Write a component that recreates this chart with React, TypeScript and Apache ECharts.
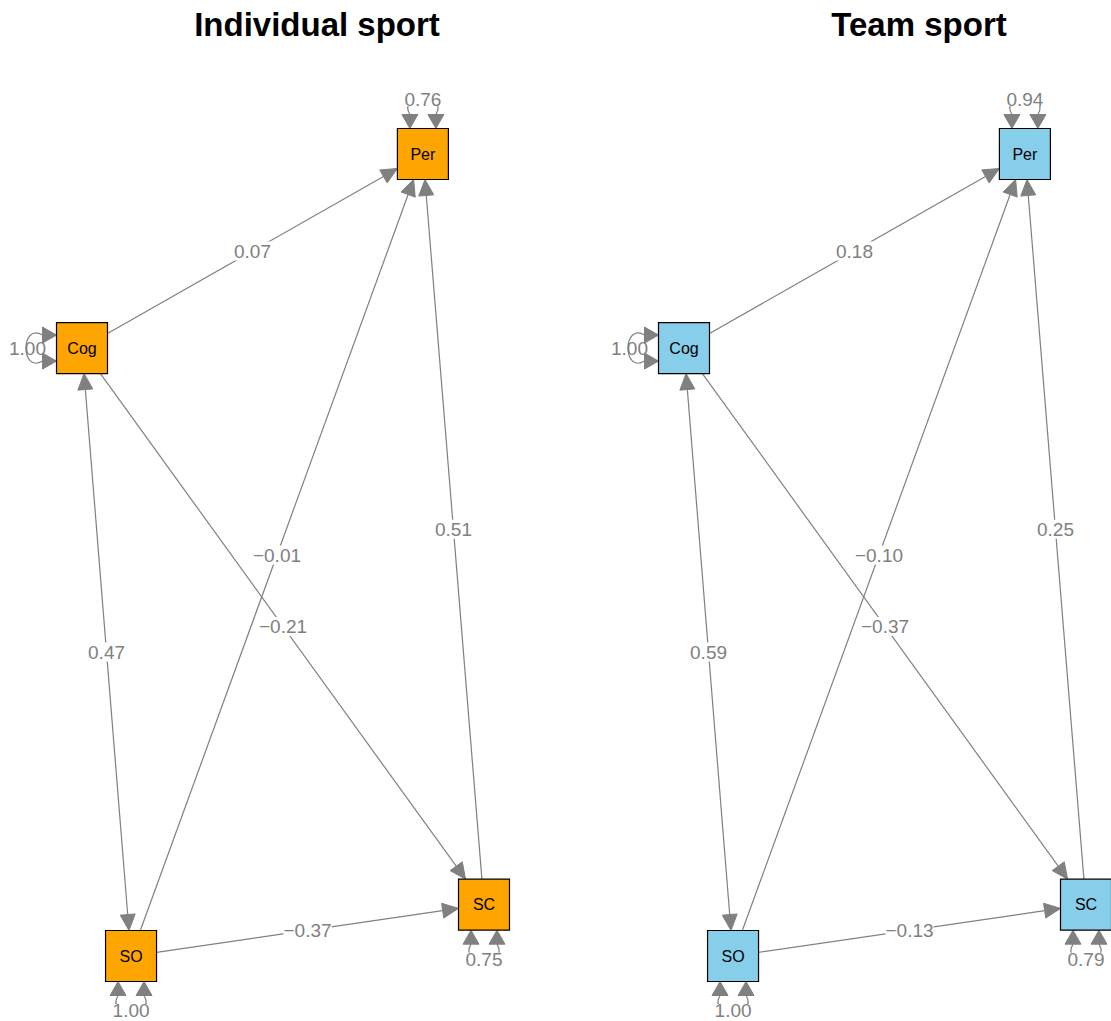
import React, { useEffect, useRef } from "react";
import * as echarts from "echarts";

// ---- data ----
const nodeNames = ["Per", "Cog", "SO", "SC"];
const nodeX = [0.848, 0, 0.122, 1];
const nodeY = [1, 0.758, 0, 0.064];

const edgeFrom = [1, 2, 3, 1, 1, 2];
const edgeTo = [0, 0, 0, 3, 2, 3];
const edgeBoth = [false, false, false, false, true, false];
const individualEdges = [0.07, -0.01, 0.51, -0.21, 0.47, -0.37];
const teamEdges = [0.18, -0.1, 0.25, -0.37, 0.59, -0.13];

const loopSide = ["top", "left", "bottom", "bottom"];
const individualVar = [0.76, 1.0, 1.0, 0.75];
const teamVar = [0.94, 1.0, 1.0, 0.79];

const panelTitles = ["Individual sport", "Team sport"];
const panelColors = ["#FFA500", "#87CEEB"];
const panelEdges = [individualEdges, teamEdges];
const panelVars = [individualVar, teamVar];

// ---- drawing helpers ----
const GRAY = "#808080";
const FONT = '"Liberation Sans", Arial, Helvetica, sans-serif';
const HALF = 25.5;
const AL = 16;
const AW = 7.5;

const fmt = (v: number) => v.toFixed(2).replace("-", "\u2212");

function boxExit(c: number[], u: number[]) {
  const tx = Math.abs(u[0]) > 1e-9 ? HALF / Math.abs(u[0]) : Infinity;
  const ty = Math.abs(u[1]) > 1e-9 ? HALF / Math.abs(u[1]) : Infinity;
  const t = Math.min(tx, ty);
  return [c[0] + u[0] * t, c[1] + u[1] * t];
}

function arrowHead(tip: number[], u: number[], len = AL, wid = AW) {
  const base = [tip[0] - u[0] * len, tip[1] - u[1] * len];
  const p = [-u[1], u[0]];
  return {
    type: "polygon",
    shape: {
      points: [
        tip,
        [base[0] + p[0] * wid, base[1] + p[1] * wid],
        [base[0] - p[0] * wid, base[1] - p[1] * wid],
      ],
    },
    style: { fill: GRAY, stroke: GRAY, lineWidth: 1 },
    base,
  };
}

function renderEdge(params: any, api: any) {
  const i = api.value(2);
  const v = api.value(3);
  const s = edgeFrom[i];
  const t = edgeTo[i];
  const cs = api.coord([nodeX[s], nodeY[s]]);
  const ct = api.coord([nodeX[t], nodeY[t]]);
  const dx = ct[0] - cs[0];
  const dy = ct[1] - cs[1];
  const len = Math.sqrt(dx * dx + dy * dy);
  const u = [dx / len, dy / len];
  const start = boxExit(cs, u);
  const end = boxExit(ct, [-u[0], -u[1]]);
  const children: any[] = [];
  const headEnd = arrowHead(end, u);
  let lineStart = start;
  if (edgeBoth[i]) {
    const headStart = arrowHead(start, [-u[0], -u[1]]);
    lineStart = headStart.base;
    children.push({ type: headStart.type, shape: headStart.shape, style: headStart.style });
  }
  children.unshift({
    type: "line",
    shape: { x1: lineStart[0], y1: lineStart[1], x2: headEnd.base[0], y2: headEnd.base[1] },
    style: { stroke: GRAY, lineWidth: 1.2 },
  });
  children.push({ type: headEnd.type, shape: headEnd.shape, style: headEnd.style });
  children.push({
    type: "text",
    z2: 10,
    x: (cs[0] + ct[0]) / 2,
    y: (cs[1] + ct[1]) / 2,
    style: {
      text: fmt(v),
      fill: GRAY,
      fontSize: 19,
      fontFamily: FONT,
      align: "center",
      verticalAlign: "middle",
      backgroundColor: "#ffffff",
    },
  });
  return { type: "group", children };
}

function renderLoop(params: any, api: any) {
  const i = api.value(2);
  const v = api.value(3);
  const c = api.coord([nodeX[i], nodeY[i]]);
  const side = loopSide[i];
  const n = side === "top" ? [0, -1] : side === "bottom" ? [0, 1] : side === "left" ? [-1, 0] : [1, 0];
  const tg = [n[1], n[0]];
  const e = [c[0] + n[0] * HALF, c[1] + n[1] * HALF];
  const off = 13;
  const pt = (a: number, b: number) => [e[0] + n[0] * a + tg[0] * b, e[1] + n[1] * a + tg[1] * b];
  const tip1 = pt(0, off);
  const tip2 = pt(0, -off);
  const inward = [-n[0], -n[1]];
  const h1 = arrowHead(tip1, inward, 14, 8);
  const h2 = arrowHead(tip2, inward, 14, 8);
  const b1 = pt(14, off);
  const b2 = pt(14, -off);
  const c1 = pt(36, 26);
  const c2 = pt(36, -26);
  const lab = pt(29, 0);
  const withBg = side !== "left";
  return {
    type: "group",
    children: [
      {
        type: "bezierCurve",
        shape: { x1: b1[0], y1: b1[1], cpx1: c1[0], cpy1: c1[1], cpx2: c2[0], cpy2: c2[1], x2: b2[0], y2: b2[1] },
        style: { stroke: GRAY, lineWidth: 1.2, fill: "none" },
      },
      { type: h1.type, shape: h1.shape, style: h1.style },
      { type: h2.type, shape: h2.shape, style: h2.style },
      {
        type: "text",
        z2: 10,
        x: lab[0],
        y: lab[1],
        style: {
          text: fmt(v),
          fill: GRAY,
          fontSize: 19,
          fontFamily: FONT,
          align: "center",
          verticalAlign: "middle",
          backgroundColor: withBg ? "#ffffff" : "transparent",
          padding: withBg ? [-3, 0] : 0,
        },
      },
    ],
  };
}

export default function App() {
  const ref = useRef<HTMLDivElement>(null);
  useEffect(() => {
    if (!ref.current) return;
    const chart = echarts.init(ref.current, undefined, { renderer: "svg" });
    const gridLefts = [82, 684];
    const titleCenters = [312, 914];
    const series: any[] = [];
    [0, 1].forEach((p) => {
      series.push({
        type: "custom",
        xAxisIndex: p,
        yAxisIndex: p,
        clip: false,
        z: 2,
        renderItem: renderEdge,
        data: panelEdges[p].map((v, i) => [0.5, 0.5, i, v]),
      });
      series.push({
        type: "custom",
        xAxisIndex: p,
        yAxisIndex: p,
        clip: false,
        z: 2,
        renderItem: renderLoop,
        data: panelVars[p].map((v, i) => [0.5, 0.5, i, v]),
      });
      series.push({
        type: "scatter",
        xAxisIndex: p,
        yAxisIndex: p,
        clip: false,
        z: 5,
        symbol: "rect",
        symbolSize: 51,
        itemStyle: { color: panelColors[p], borderColor: "#000", borderWidth: 1.2, opacity: 1 },
        label: {
          show: true,
          position: "inside",
          formatter: (d: any) => d.data[2],
          color: "#000",
          fontSize: 16,
          fontFamily: FONT,
        },
        emphasis: { disabled: true },
        data: nodeNames.map((nm, i) => [nodeX[i], nodeY[i], nm]),
      });
    });
    chart.setOption({
      animation: false,
      backgroundColor: "#ffffff",
      title: panelTitles.map((t, p) => ({
        text: t,
        left: titleCenters[p],
        top: 3,
        textAlign: "center",
        textStyle: { fontSize: 33, fontWeight: "bold", color: "#000", fontFamily: FONT },
      })),
      grid: gridLefts.map((l) => ({ left: l, top: 154, width: 402, height: 802 })),
      xAxis: [0, 1].map((p) => ({ type: "value", gridIndex: p, min: 0, max: 1, show: false })),
      yAxis: [0, 1].map((p) => ({ type: "value", gridIndex: p, min: 0, max: 1, show: false })),
      series,
    });
    return () => chart.dispose();
  }, []);
  return (
    <div
      ref={ref}
      style={{ position: "absolute", left: 0, top: 0, width: 1111, height: 1021 }}
    />
  );
}
